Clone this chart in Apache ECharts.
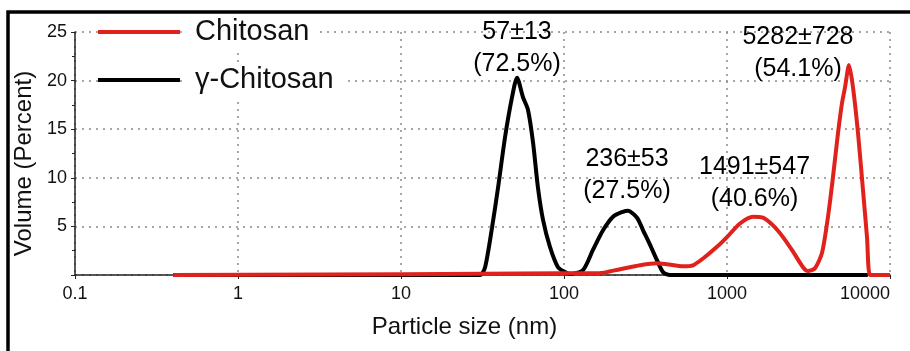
<!DOCTYPE html>
<html>
<head>
<meta charset="utf-8">
<script src="https://cdn.jsdelivr.net/npm/echarts@6/dist/echarts.min.js"></script>
<style>html,body{margin:0;padding:0;background:#fff;}#c{width:910px;height:351px;}</style>
</head>
<body>
<div id="c"></div>
<script>
// Particle size (nm) vs Volume (%)
var chitosanX = [0.4, 166, 221, 293, 372, 429, 537, 619, 713, 868, 1000, 1202, 1444, 1663, 1915, 2206, 2541, 2926, 3141, 3467, 3828, 4165, 4470, 4798, 5077, 5297, 5604, 5930, 6365, 6830, 7226, 7540, 8318, 10000];
var chitosanY = [0, 0.2, 0.6, 1.0, 1.2, 1.1, 0.9, 1.0, 1.7, 2.9, 3.9, 5.3, 6.0, 5.9, 5.1, 3.9, 2.4, 0.8, 0.4, 0.7, 2.3, 6.0, 10.1, 14.6, 17.7, 19.3, 21.6, 19.3, 14.6, 8.7, 3.9, 0, 0, 0];
var gammaX = [0.4, 30.5, 32.8, 36.2, 39.4, 43.5, 48.0, 51.5, 56.0, 60.1, 64.6, 69.2, 74.3, 82.0, 91.9, 101.4, 108.8, 130.8, 150.7, 173.5, 199.9, 230, 247, 280.6, 305.5, 337.3, 372.5, 404.9, 447, 7300];
var gammaY = [0, 0, 0.8, 4.9, 9.0, 14.2, 18.3, 20.3, 18.3, 17.0, 13.6, 9.0, 5.7, 2.9, 0.8, 0.3, 0.1, 0.5, 2.6, 4.6, 6.0, 6.5, 6.6, 5.9, 4.6, 3.1, 1.5, 0.3, 0, 0];
var xTicks = ['0.1', '1', '10', '100', '1000', '10000'];
var yTicks = ['', '5', '10', '15', '20', '25'];
var annX = [51.5, 243.5, 1475, 2726];
var annY = [23.35, 10.29, 9.43, 22.84];
var annText = ['57±13\n(72.5%)', '236±53\n(27.5%)', '1491±547\n(40.6%)', '5282±728\n(54.1%)'];

function pairs(xs, ys) { return xs.map(function (x, i) { return [x, ys[i]]; }); }

var FONT = '"Liberation Sans", Arial, sans-serif';
var chart = echarts.init(document.getElementById('c'), null, { renderer: 'canvas' });
chart.setOption({
  animation: false,
  backgroundColor: '#fff',
  grid: { left: 75, right: 20, top: 32, bottom: 76, containLabel: false, outerBoundsMode: 'none' },
  legend: {
    data: ['Chitosan', 'γ-Chitosan'],
    orient: 'vertical',
    left: 98, top: 15,
    padding: 0,
    itemGap: 14,
    itemWidth: 82, itemHeight: 4,
    icon: 'rect',
    textStyle: { fontFamily: FONT, fontSize: 29, color: '#111', lineHeight: 34, backgroundColor: '#fff', padding: [0, 10, 0, 10] }
  },
  xAxis: {
    type: 'log', logBase: 10, min: 0.1, max: 10000,
    name: 'Particle size (nm)', nameLocation: 'middle', nameGap: 40,
    nameTextStyle: { fontFamily: FONT, fontSize: 24, color: '#111', padding: [0, 36, 0, 0] },
    axisLine: { show: true, onZero: false, lineStyle: { color: '#222', width: 1.5 } },
    axisTick: { show: true, length: 4, lineStyle: { color: '#222' } },
    axisLabel: {
      fontFamily: FONT, fontSize: 18, color: '#111', margin: 10, alignMaxLabel: 'right',
      formatter: function (v) { var i = Math.round(Math.log10(v)) + 1; return xTicks[i] !== undefined ? xTicks[i] : ''; }
    },
    splitLine: { show: true, lineStyle: { color: '#8a8a8a', type: [2, 5], width: 1.5 } }
  },
  yAxis: {
    type: 'value', min: 0, max: 25, interval: 5,
    name: 'Volume (Percent)', nameLocation: 'middle', nameGap: 24,
    nameTextStyle: { fontFamily: FONT, fontSize: 24, color: '#111', padding: [0, 20, 0, 0] },
    axisLine: { show: true, lineStyle: { color: '#222', width: 1.5 } },
    axisTick: { show: true, length: 4, lineStyle: { color: '#222' } },
    minorTick: { show: true, splitNumber: 2, length: 3, lineStyle: { color: '#222' } },
    axisLabel: {
      fontFamily: FONT, fontSize: 18, color: '#111', margin: 8,
      formatter: function (v) { return yTicks[Math.round(v / 5)]; }
    },
    splitLine: { show: true, lineStyle: { color: '#8a8a8a', type: [2, 5], width: 1.5 } }
  },
  graphic: [{
    type: 'rect', silent: true, z: 100,
    shape: { x: 8, y: 12, width: 920, height: 360 },
    style: { fill: 'none', stroke: '#000', lineWidth: 3.5 }
  }],
  series: [
    {
      name: 'Chitosan', type: 'line', z: 4, data: pairs(chitosanX, chitosanY),
      showSymbol: false, smooth: 0.25, color: '#e0211c',
      lineStyle: { width: 4, color: '#e0211c' }
    },
    {
      name: 'γ-Chitosan', type: 'line', z: 3, data: pairs(gammaX, gammaY),
      showSymbol: false, smooth: 0.25, color: '#000',
      lineStyle: { width: 4, color: '#000' }
    },
    {
      name: 'labels', type: 'scatter', z: 5, silent: true, symbolSize: 0,
      itemStyle: { opacity: 1, color: '#000' },
      data: annX.map(function (x, i) { return [x, annY[i], annText[i]]; }),
      label: {
        show: true, position: 'inside', opacity: 1,
        formatter: function (p) { return p.data[2]; },
        fontFamily: FONT, fontSize: 25, color: '#000', lineHeight: 32, align: 'center',
        textBorderWidth: 0, textBorderColor: 'transparent'
      }
    }
  ]
});
</script>
</body>
</html>
